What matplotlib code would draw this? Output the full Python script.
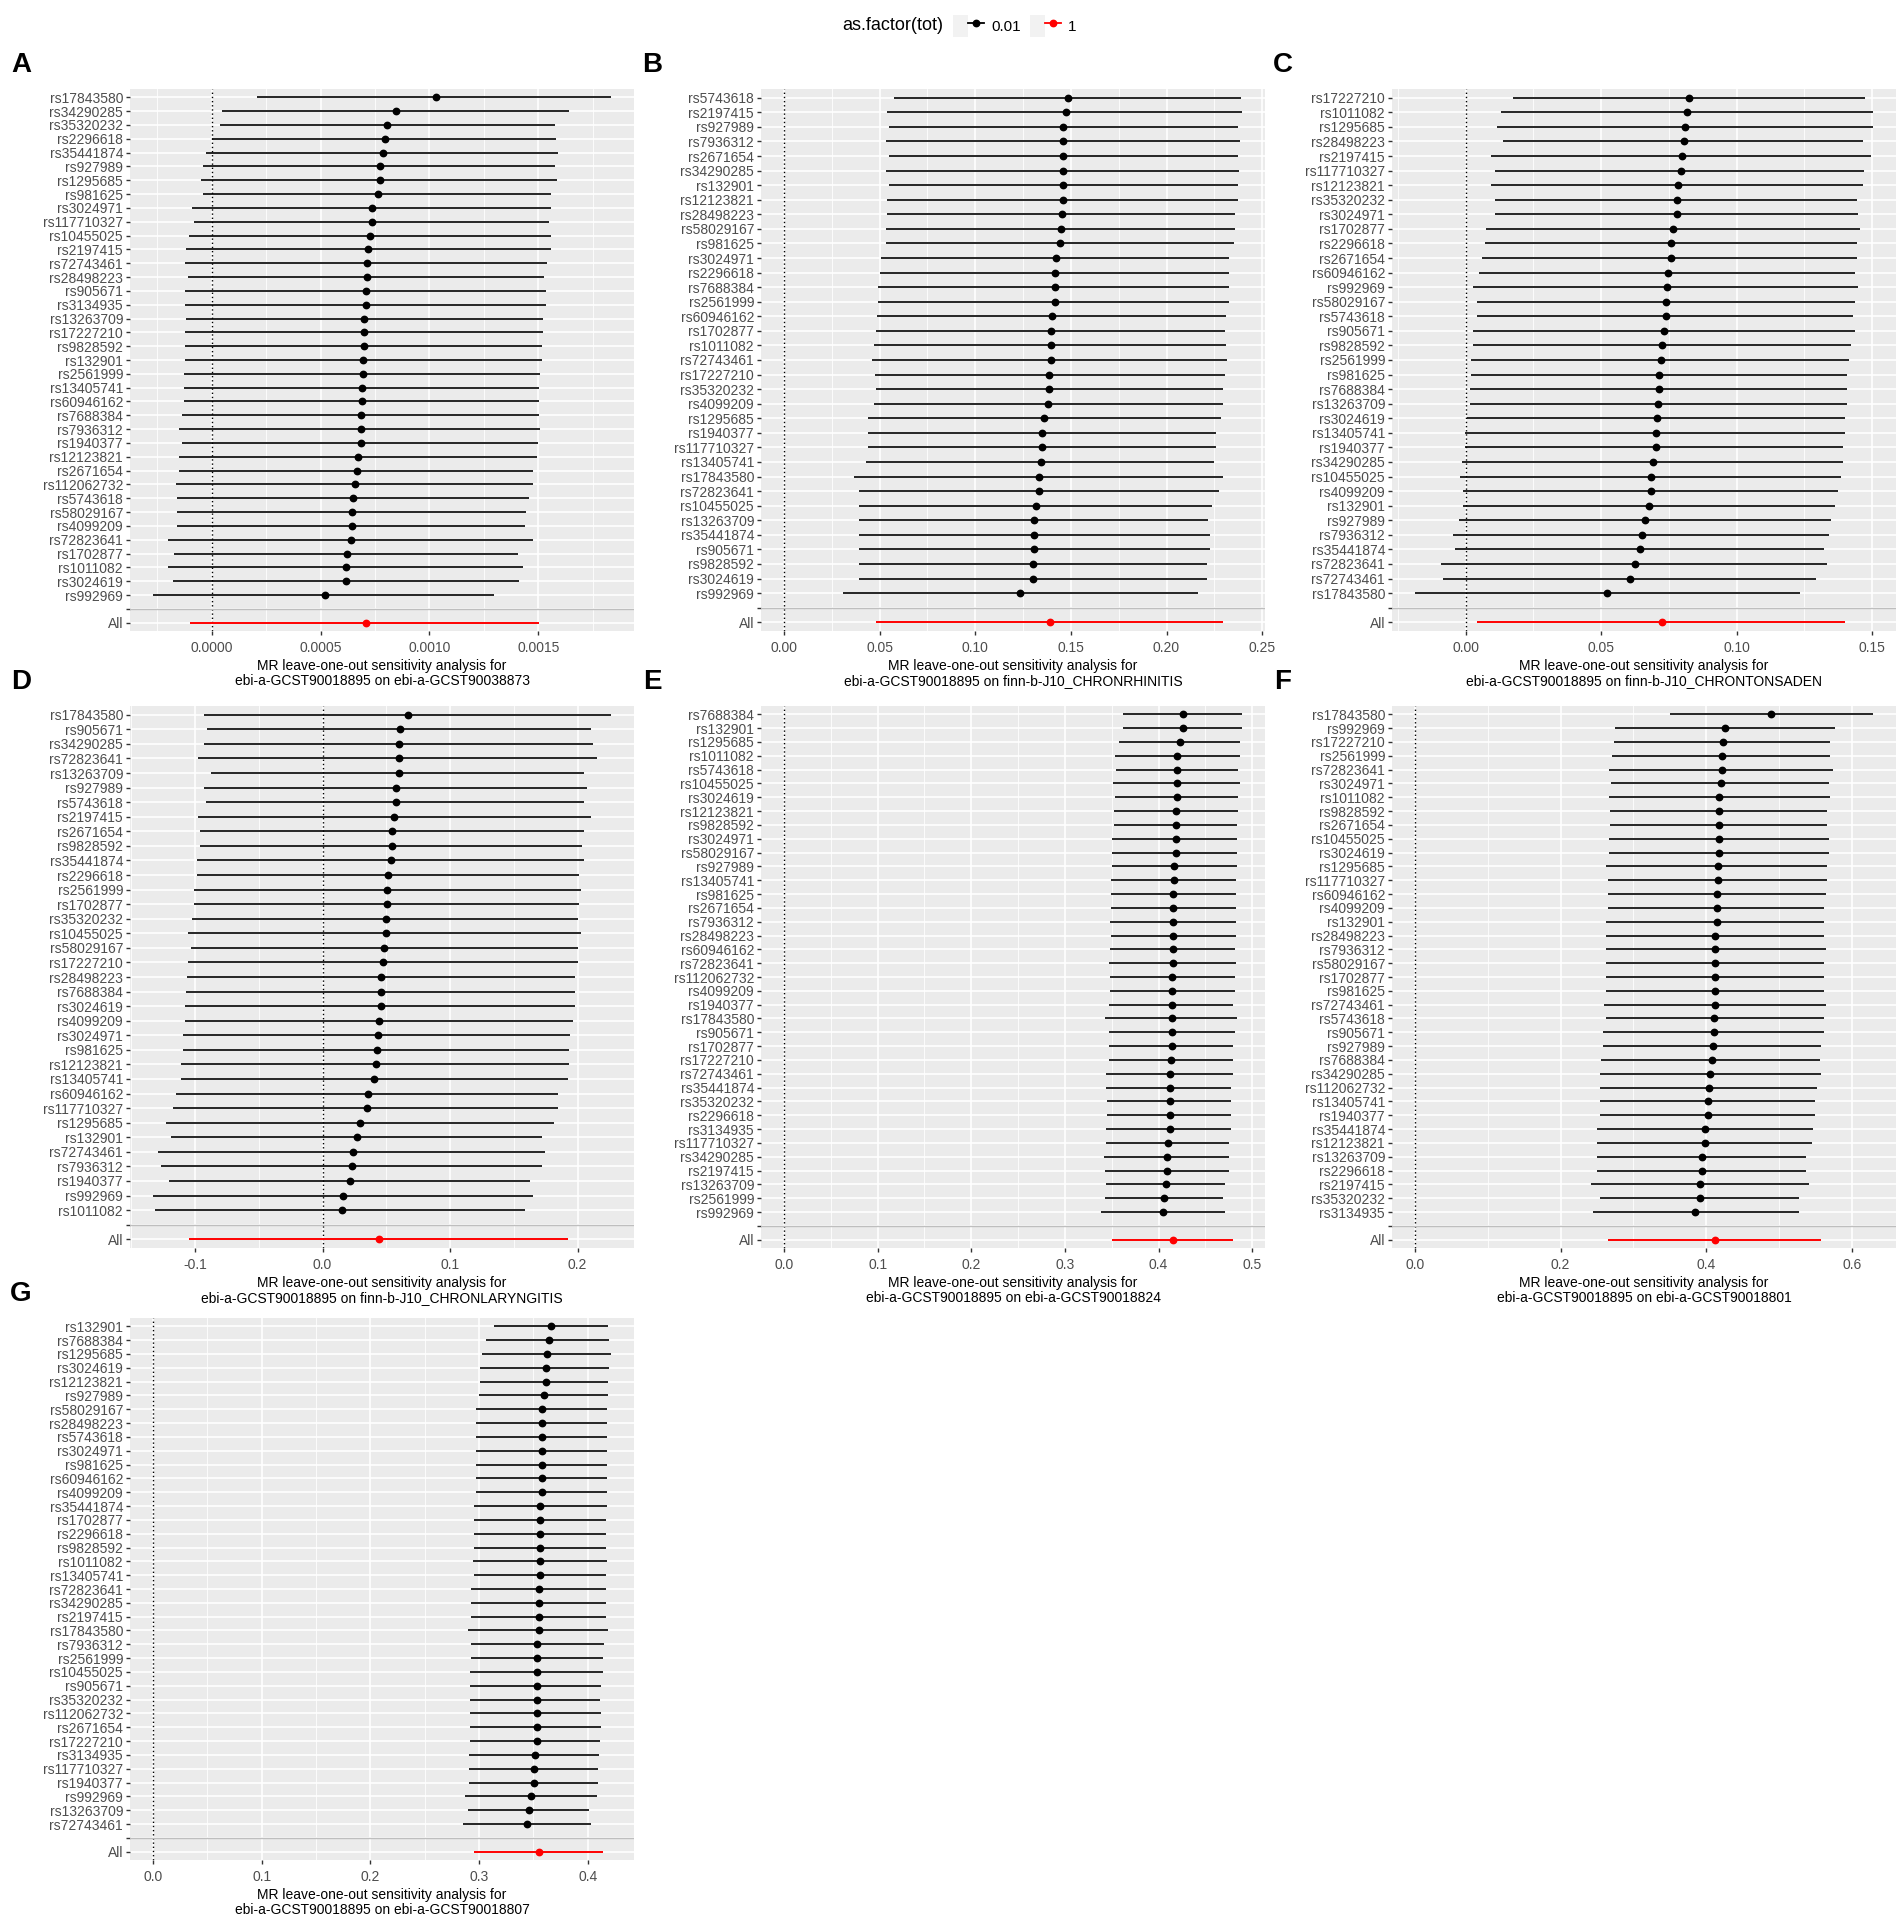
import matplotlib
matplotlib.use("Agg")
import matplotlib.pyplot as plt
from matplotlib.ticker import MultipleLocator, FuncFormatter
from matplotlib.lines import Line2D
from matplotlib.patches import Patch
from matplotlib.legend_handler import HandlerTuple

plt.rcParams['font.family'] = ['Liberation Sans', 'DejaVu Sans']

# ---- panel A: ebi-a-GCST90038873 ----
A_snp = ['rs17843580', 'rs34290285', 'rs35320232', 'rs2296618', 'rs35441874', 'rs927989',
         'rs1295685', 'rs981625', 'rs3024971', 'rs117710327', 'rs10455025', 'rs2197415',
         'rs72743461', 'rs28498223', 'rs905671', 'rs3134935', 'rs13263709', 'rs17227210',
         'rs9828592', 'rs132901', 'rs2561999', 'rs13405741', 'rs60946162', 'rs7688384',
         'rs7936312', 'rs1940377', 'rs12123821', 'rs2671654', 'rs112062732', 'rs5743618',
         'rs58029167', 'rs4099209', 'rs72823641', 'rs1702877', 'rs1011082', 'rs3024619',
         'rs992969']
A_b = [0.001028, 0.000848, 0.000806, 0.000795, 0.000788, 0.000771, 0.000771, 0.000765,
       0.000735, 0.000735, 0.000728, 0.000718, 0.000713, 0.000713, 0.000707, 0.000707,
       0.000701, 0.000701, 0.000701, 0.000696, 0.000696, 0.000688, 0.000688, 0.000684,
       0.000684, 0.000684, 0.000673, 0.000666, 0.000660, 0.000649, 0.000643, 0.000643,
       0.000638, 0.000619, 0.000615, 0.000615, 0.000518]
A_lo = [0.000210, 0.000045, 0.000038, 0.0, -0.000024, -0.000038, -0.000050, -0.000041,
        -0.000090, -0.000081, -0.000103, -0.000118, -0.000122, -0.000111, -0.000122, -0.000122,
        -0.000118, -0.000122, -0.000122, -0.000122, -0.000129, -0.000129, -0.000129, -0.000135,
        -0.000148, -0.000135, -0.000150, -0.000150, -0.000163, -0.000158, -0.000158, -0.000158,
        -0.000201, -0.000173, -0.000201, -0.000178, -0.000270]
A_hi = [0.001834, 0.001643, 0.001575, 0.001579, 0.001590, 0.001575, 0.001586, 0.001560,
        0.001556, 0.001549, 0.001556, 0.001556, 0.001541, 0.001528, 0.001534, 0.001534,
        0.001521, 0.001521, 0.001515, 0.001515, 0.001509, 0.001504, 0.001504, 0.001504,
        0.001509, 0.001500, 0.001493, 0.001474, 0.001474, 0.001457, 0.001444, 0.001438,
        0.001474, 0.001406, 0.001431, 0.001410, 0.001298]
A_all = [-0.000101, 0.000709, 0.001504]

# ---- panel B: finn-b-J10_CHRONRHINITIS ----
B_snp = ['rs5743618', 'rs2197415', 'rs927989', 'rs7936312', 'rs2671654', 'rs34290285',
         'rs132901', 'rs12123821', 'rs28498223', 'rs58029167', 'rs981625', 'rs3024971',
         'rs2296618', 'rs7688384', 'rs2561999', 'rs60946162', 'rs1702877', 'rs1011082',
         'rs72743461', 'rs17227210', 'rs35320232', 'rs4099209', 'rs1295685', 'rs1940377',
         'rs117710327', 'rs13405741', 'rs17843580', 'rs72823641', 'rs10455025', 'rs13263709',
         'rs35441874', 'rs905671', 'rs9828592', 'rs3024619', 'rs992969']
B_b = [0.1486, 0.1474, 0.1461, 0.1461, 0.1461, 0.1461, 0.1461, 0.1461, 0.1456, 0.1450,
       0.1442, 0.1423, 0.1416, 0.1416, 0.1416, 0.1402, 0.1395, 0.1395, 0.1395, 0.1388,
       0.1385, 0.1381, 0.1360, 0.1350, 0.1350, 0.1343, 0.1336, 0.1336, 0.1316, 0.1309,
       0.1309, 0.1309, 0.1302, 0.1302, 0.1236]
B_lo = [0.0573, 0.0540, 0.0549, 0.0535, 0.0549, 0.0535, 0.0549, 0.0540, 0.0540, 0.0535,
        0.0535, 0.0507, 0.0502, 0.0493, 0.0493, 0.0488, 0.0479, 0.0469, 0.0460, 0.0474,
        0.0479, 0.0469, 0.0437, 0.0437, 0.0437, 0.0428, 0.0367, 0.0390, 0.0395, 0.0395,
        0.0390, 0.0390, 0.0395, 0.0390, 0.0311]
B_hi = [0.2391, 0.2395, 0.2372, 0.2385, 0.2372, 0.2378, 0.2372, 0.2372, 0.2358, 0.2358,
        0.2353, 0.2325, 0.2325, 0.2325, 0.2325, 0.2311, 0.2308, 0.2311, 0.2316, 0.2308,
        0.2297, 0.2294, 0.2283, 0.2260, 0.2260, 0.2250, 0.2297, 0.2273, 0.2236, 0.2218,
        0.2227, 0.2227, 0.2213, 0.2213, 0.2166]
B_all = [0.0481, 0.1390, 0.2294]

# ---- panel C: finn-b-J10_CHRONTONSADEN ----
C_snp = ['rs17227210', 'rs1011082', 'rs1295685', 'rs28498223', 'rs2197415', 'rs117710327',
         'rs12123821', 'rs35320232', 'rs3024971', 'rs1702877', 'rs2296618', 'rs2671654',
         'rs60946162', 'rs992969', 'rs58029167', 'rs5743618', 'rs905671', 'rs9828592',
         'rs2561999', 'rs981625', 'rs7688384', 'rs13263709', 'rs3024619', 'rs13405741',
         'rs1940377', 'rs34290285', 'rs10455025', 'rs4099209', 'rs132901', 'rs927989',
         'rs7936312', 'rs35441874', 'rs72823641', 'rs72743461', 'rs17843580']
C_b = [0.0825, 0.0817, 0.0811, 0.0807, 0.0797, 0.0793, 0.0784, 0.0779, 0.0779, 0.0765,
       0.0757, 0.0757, 0.0746, 0.0742, 0.0738, 0.0738, 0.0733, 0.0724, 0.0719, 0.0714,
       0.0714, 0.0710, 0.0706, 0.0701, 0.0701, 0.0690, 0.0682, 0.0682, 0.0677, 0.0663,
       0.0650, 0.0645, 0.0625, 0.0606, 0.0523]
C_lo = [0.0173, 0.0129, 0.0117, 0.0139, 0.0092, 0.0107, 0.0092, 0.0110, 0.0107, 0.0074,
        0.0070, 0.0059, 0.0051, 0.0027, 0.0041, 0.0041, 0.0027, 0.0027, 0.0019, 0.0019,
        0.0016, 0.0016, 0.0004, -0.0003, -0.0003, -0.0014, -0.0019, -0.0009, -0.0009, -0.0026,
        -0.0048, -0.0038, -0.0091, -0.0084, -0.0187]
C_hi = [0.1475, 0.1503, 0.1503, 0.1467, 0.1494, 0.1470, 0.1467, 0.1445, 0.1448, 0.1453,
        0.1445, 0.1445, 0.1438, 0.1448, 0.1435, 0.1429, 0.1435, 0.1422, 0.1415, 0.1405,
        0.1405, 0.1405, 0.1401, 0.1399, 0.1393, 0.1393, 0.1383, 0.1373, 0.1364, 0.1346,
        0.1342, 0.1323, 0.1334, 0.1293, 0.1234]
C_all = [0.0041, 0.0724, 0.1401]

# ---- panel D: finn-b-J10_CHRONLARYNGITIS ----
D_snp = ['rs17843580', 'rs905671', 'rs34290285', 'rs72823641', 'rs13263709', 'rs927989',
         'rs5743618', 'rs2197415', 'rs2671654', 'rs9828592', 'rs35441874', 'rs2296618',
         'rs2561999', 'rs1702877', 'rs35320232', 'rs10455025', 'rs58029167', 'rs17227210',
         'rs28498223', 'rs7688384', 'rs3024619', 'rs4099209', 'rs3024971', 'rs981625',
         'rs12123821', 'rs13405741', 'rs60946162', 'rs117710327', 'rs1295685', 'rs132901',
         'rs72743461', 'rs7936312', 'rs1940377', 'rs992969', 'rs1011082']
D_b = [0.0673, 0.0606, 0.0596, 0.0596, 0.0596, 0.0574, 0.0574, 0.0564, 0.0545, 0.0545,
       0.0535, 0.0516, 0.0506, 0.0506, 0.0494, 0.0494, 0.0484, 0.0474, 0.0458, 0.0458,
       0.0458, 0.0446, 0.0436, 0.0426, 0.0417, 0.0407, 0.0356, 0.0346, 0.0295, 0.0269,
       0.0240, 0.0228, 0.0218, 0.0160, 0.0151]
D_lo = [-0.0926, -0.0904, -0.0926, -0.0974, -0.0872, -0.0926, -0.0913, -0.0974, -0.0962, -0.0962,
        -0.0987, -0.0987, -0.1010, -0.1010, -0.1022, -0.1051, -0.1032, -0.1051, -0.1061, -0.1071,
        -0.1080, -0.1080, -0.1093, -0.1093, -0.1106, -0.1106, -0.1151, -0.1170, -0.1231, -0.1192,
        -0.1288, -0.1269, -0.1202, -0.1330, -0.1311]
D_hi = [0.2263, 0.2103, 0.2119, 0.2154, 0.2054, 0.2077, 0.2048, 0.2103, 0.2048, 0.2035,
        0.2048, 0.2013, 0.2026, 0.2013, 0.2000, 0.2026, 0.2006, 0.2000, 0.1978, 0.1978,
        0.1978, 0.1965, 0.1942, 0.1936, 0.1936, 0.1929, 0.1846, 0.1846, 0.1817, 0.1718,
        0.1747, 0.1724, 0.1628, 0.1647, 0.1587]
D_all = [-0.1045, 0.0446, 0.1926]

# ---- panel E: ebi-a-GCST90018824 ----
E_snp = ['rs7688384', 'rs132901', 'rs1295685', 'rs1011082', 'rs5743618', 'rs10455025',
         'rs3024619', 'rs12123821', 'rs9828592', 'rs3024971', 'rs58029167', 'rs927989',
         'rs13405741', 'rs981625', 'rs2671654', 'rs7936312', 'rs28498223', 'rs60946162',
         'rs72823641', 'rs112062732', 'rs4099209', 'rs1940377', 'rs17843580', 'rs905671',
         'rs1702877', 'rs17227210', 'rs72743461', 'rs35441874', 'rs35320232', 'rs2296618',
         'rs3134935', 'rs117710327', 'rs34290285', 'rs2197415', 'rs13263709', 'rs2561999',
         'rs992969']
E_b = [0.4262, 0.4262, 0.4227, 0.4197, 0.4197, 0.4197, 0.4197, 0.4183, 0.4183, 0.4183,
       0.4183, 0.4166, 0.4166, 0.4157, 0.4157, 0.4157, 0.4157, 0.4157, 0.4157, 0.4144,
       0.4144, 0.4144, 0.4144, 0.4144, 0.4144, 0.4131, 0.4118, 0.4118, 0.4118, 0.4118,
       0.4118, 0.4105, 0.4092, 0.4092, 0.4074, 0.4061, 0.4044]
E_lo = [0.3624, 0.3624, 0.3581, 0.3533, 0.3546, 0.3515, 0.3533, 0.3520, 0.3520, 0.3507,
        0.3507, 0.3507, 0.3493, 0.3493, 0.3493, 0.3485, 0.3493, 0.3485, 0.3467, 0.3485,
        0.3485, 0.3467, 0.3428, 0.3467, 0.3467, 0.3467, 0.3441, 0.3441, 0.3454, 0.3454,
        0.3441, 0.3441, 0.3419, 0.3428, 0.3441, 0.3428, 0.3389]
E_hi = [0.4891, 0.4891, 0.4873, 0.4869, 0.4847, 0.4869, 0.4847, 0.4847, 0.4838, 0.4838,
        0.4838, 0.4838, 0.4821, 0.4821, 0.4821, 0.4821, 0.4821, 0.4812, 0.4821, 0.4812,
        0.4812, 0.4799, 0.4838, 0.4812, 0.4799, 0.4799, 0.4799, 0.4773, 0.4773, 0.4773,
        0.4773, 0.4747, 0.4747, 0.4755, 0.4707, 0.4686, 0.4707]
E_all = [0.3498, 0.4157, 0.4799]

# ---- panel F: ebi-a-GCST90018801 ----
F_snp = ['rs17843580', 'rs992969', 'rs17227210', 'rs2561999', 'rs72823641', 'rs3024971',
         'rs1011082', 'rs9828592', 'rs2671654', 'rs10455025', 'rs3024619', 'rs1295685',
         'rs117710327', 'rs60946162', 'rs4099209', 'rs132901', 'rs28498223', 'rs7936312',
         'rs58029167', 'rs1702877', 'rs981625', 'rs72743461', 'rs5743618', 'rs905671',
         'rs927989', 'rs7688384', 'rs34290285', 'rs112062732', 'rs13405741', 'rs1940377',
         'rs35441874', 'rs12123821', 'rs13263709', 'rs2296618', 'rs2197415', 'rs35320232',
         'rs3134935']
F_b = [0.4893, 0.4264, 0.4230, 0.4213, 0.4213, 0.4197, 0.4174, 0.4174, 0.4174, 0.4174,
       0.4174, 0.4163, 0.4163, 0.4146, 0.4146, 0.4146, 0.4124, 0.4124, 0.4124, 0.4124,
       0.4124, 0.4124, 0.4107, 0.4107, 0.4090, 0.4073, 0.4056, 0.4039, 0.4022, 0.4022,
       0.3989, 0.3989, 0.3949, 0.3938, 0.3921, 0.3921, 0.3848]
F_lo = [0.3500, 0.2747, 0.2736, 0.2713, 0.2663, 0.2697, 0.2663, 0.2674, 0.2674, 0.2663,
        0.2663, 0.2629, 0.2652, 0.2652, 0.2652, 0.2629, 0.2629, 0.2618, 0.2629, 0.2618,
        0.2618, 0.2590, 0.2618, 0.2579, 0.2579, 0.2556, 0.2539, 0.2539, 0.2539, 0.2539,
        0.2506, 0.2506, 0.2506, 0.2506, 0.2421, 0.2539, 0.2444]
F_hi = [0.6292, 0.5770, 0.5697, 0.5697, 0.5736, 0.5685, 0.5697, 0.5663, 0.5663, 0.5685,
        0.5685, 0.5663, 0.5663, 0.5652, 0.5624, 0.5624, 0.5624, 0.5652, 0.5612, 0.5624,
        0.5612, 0.5652, 0.5612, 0.5612, 0.5573, 0.5562, 0.5573, 0.5522, 0.5489, 0.5489,
        0.5472, 0.5449, 0.5371, 0.5371, 0.5416, 0.5281, 0.5270]
F_all = [0.2652, 0.4124, 0.5573]

# ---- panel G: ebi-a-GCST90018807 ----
G_snp = ['rs132901', 'rs7688384', 'rs1295685', 'rs3024619', 'rs12123821', 'rs927989',
         'rs58029167', 'rs28498223', 'rs5743618', 'rs3024971', 'rs981625', 'rs60946162',
         'rs4099209', 'rs35441874', 'rs1702877', 'rs2296618', 'rs9828592', 'rs1011082',
         'rs13405741', 'rs72823641', 'rs34290285', 'rs2197415', 'rs17843580', 'rs7936312',
         'rs2561999', 'rs10455025', 'rs905671', 'rs35320232', 'rs112062732', 'rs2671654',
         'rs17227210', 'rs3134935', 'rs117710327', 'rs1940377', 'rs992969', 'rs13263709',
         'rs72743461']
G_b = [0.3661, 0.3646, 0.3623, 0.3612, 0.3612, 0.3597, 0.3578, 0.3578, 0.3578, 0.3578,
       0.3578, 0.3578, 0.3578, 0.3563, 0.3563, 0.3563, 0.3563, 0.3563, 0.3563, 0.3548,
       0.3548, 0.3548, 0.3548, 0.3537, 0.3537, 0.3529, 0.3529, 0.3529, 0.3529, 0.3529,
       0.3529, 0.3518, 0.3503, 0.3503, 0.3480, 0.3458, 0.3446]
G_lo = [0.3134, 0.3066, 0.3028, 0.3009, 0.3009, 0.3002, 0.2976, 0.2976, 0.2968, 0.2968,
        0.2968, 0.2968, 0.2968, 0.2953, 0.2953, 0.2953, 0.2953, 0.2945, 0.2953, 0.2927,
        0.2927, 0.2927, 0.2896, 0.2927, 0.2927, 0.2919, 0.2919, 0.2919, 0.2919, 0.2919,
        0.2919, 0.2911, 0.2911, 0.2911, 0.2870, 0.2896, 0.2851]
G_hi = [0.4188, 0.4200, 0.4215, 0.4200, 0.4188, 0.4188, 0.4173, 0.4173, 0.4173, 0.4173,
        0.4173, 0.4173, 0.4173, 0.4173, 0.4166, 0.4166, 0.4166, 0.4173, 0.4166, 0.4166,
        0.4166, 0.4166, 0.4188, 0.4147, 0.4136, 0.4136, 0.4120, 0.4113, 0.4120, 0.4120,
        0.4113, 0.4105, 0.4090, 0.4090, 0.4083, 0.4008, 0.4030]
G_all = [0.2953, 0.3548, 0.4136]

exposure = 'ebi-a-GCST90018895'
outcomes = ['ebi-a-GCST90038873', 'finn-b-J10_CHRONRHINITIS', 'finn-b-J10_CHRONTONSADEN',
            'finn-b-J10_CHRONLARYNGITIS', 'ebi-a-GCST90018824', 'ebi-a-GCST90018801',
            'ebi-a-GCST90018807']
tick_steps = [0.0005, 0.05, 0.05, 0.1, 0.1, 0.2, 0.1]
tick_decimals = [4, 2, 2, 1, 1, 1, 1]
legend_labels = ['0.01', '1']

panels = [
    ('A', A_snp, A_b, A_lo, A_hi, A_all),
    ('B', B_snp, B_b, B_lo, B_hi, B_all),
    ('C', C_snp, C_b, C_lo, C_hi, C_all),
    ('D', D_snp, D_b, D_lo, D_hi, D_all),
    ('E', E_snp, E_b, E_lo, E_hi, E_all),
    ('F', F_snp, F_b, F_lo, F_hi, F_all),
    ('G', G_snp, G_b, G_lo, G_hi, G_all),
]

W, H = 1902, 1919
PANEL_BG = '#EBEBEB'
TXT = '#4D4D4D'

fig = plt.figure(figsize=(W / 100, H / 100), dpi=100)

col_x = [130, 761, 1392]
row_top = [89, 706, 1318]
pw, ph = 504, 542


def fmt_factory(nd):
    def f(v, pos):
        s = f"{v:.{nd}f}"
        if s.startswith('-') and float(s) == 0:
            s = s[1:]
        return s
    return f


def draw_panel(ax, snps, b, lo, hi, tot, outcome, step, nd):
    n = len(snps)
    levels = ['All', ''] + snps[::-1]
    ys = list(range(n + 2, 2, -1))

    ax.set_facecolor(PANEL_BG)
    for s in ax.spines.values():
        s.set_visible(False)

    ax.axvline(0, color='black', linestyle=(0, (1, 2)), linewidth=1.0, zorder=2)
    ax.hlines(ys, lo, hi, color='black', linewidth=1.2, zorder=3)
    ax.plot(b, ys, 'o', color='black', markersize=4.6, zorder=4)
    ax.hlines([1], [tot[0]], [tot[2]], color='red', linewidth=1.4, zorder=3)
    ax.plot([tot[1]], [1], 'o', color='red', markersize=4.6, zorder=4)
    ax.axhline(2, color='#BEBEBE', linewidth=1.0, zorder=2)

    xmin = min(0, min(lo), tot[0])
    xmax = max(0, max(hi), tot[2])
    pad = (xmax - xmin) * 0.05
    ax.set_xlim(xmin - pad, xmax + pad)
    ax.set_ylim(0.4, n + 2.6)

    ax.xaxis.set_major_locator(MultipleLocator(step))
    ax.xaxis.set_minor_locator(MultipleLocator(step / 2))
    ax.xaxis.set_major_formatter(FuncFormatter(fmt_factory(nd)))
    ax.set_yticks(range(1, n + 3))
    ax.set_yticklabels(levels)

    ax.grid(True, which='major', axis='both', color='white', linewidth=1.2, zorder=0)
    ax.grid(True, which='minor', axis='x', color='white', linewidth=0.6, zorder=0)
    ax.set_axisbelow(True)
    ax.tick_params(axis='both', which='major', length=3, width=1, color='#333333',
                   labelcolor=TXT, labelsize=10, pad=2)
    ax.tick_params(axis='x', which='major', pad=4)
    ax.tick_params(axis='both', which='minor', length=0)
    ax.set_xlabel('MR leave-one-out sensitivity analysis for\n' + exposure + ' on ' + outcome,
                  fontsize=10, color='black', labelpad=3, linespacing=1.1)


for i, (tag, snps, b, lo, hi, tot) in enumerate(panels):
    r, c = divmod(i, 3)
    left = col_x[c] / W
    bottom = 1 - (row_top[r] + ph) / H
    ax = fig.add_axes([left, bottom, pw / W, ph / H])
    draw_panel(ax, snps, b, lo, hi, tot, outcomes[i], tick_steps[i], tick_decimals[i])
    fig.text((col_x[c] - 109) / W, 1 - (row_top[r] - 24) / H, tag, fontsize=20,
             fontweight='bold', ha='center', va='center')

# legend on top
fig.text(842 / W, 1 - 26 / H, 'as.factor(tot)', fontsize=13, ha='left', va='center')
handles = [(Patch(facecolor='#F2F2F2', edgecolor='none'),
            Line2D([], [], color=col, marker='o', markersize=4.6, linewidth=1.3))
           for col in ['black', 'red']]
fig.legend(handles, legend_labels, loc='center left', bbox_to_anchor=(953 / W, 1 - 26 / H),
           ncol=2, frameon=False, fontsize=11, handlelength=2.0, handleheight=1.8,
           handletextpad=0.5, columnspacing=0.6, borderpad=0, borderaxespad=0,
           handler_map={tuple: HandlerTuple(ndivide=None)})

fig.savefig('out.png', dpi=100)
